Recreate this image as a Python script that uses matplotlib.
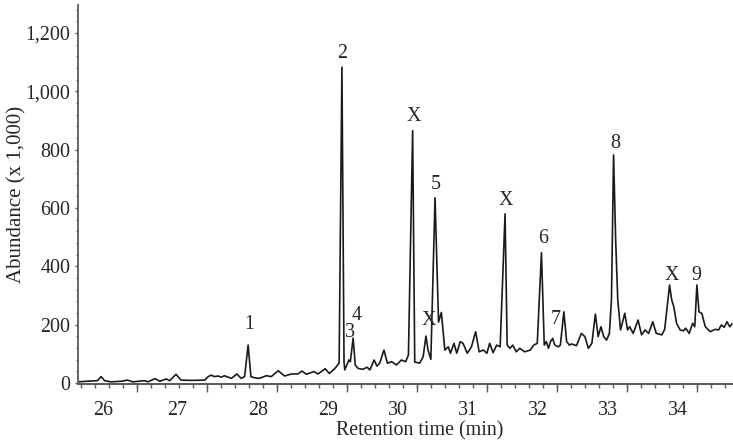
import matplotlib
matplotlib.use("Agg")
import matplotlib.pyplot as plt
from matplotlib.ticker import FixedLocator, NullFormatter, NullLocator, FuncFormatter
import numpy as np

# ---- data (retention time in min, abundance x 1,000) ----
time = [25.43, 25.62, 25.71, 25.76, 25.81, 25.90, 26.05, 26.14, 26.21, 26.38,
        26.43, 26.53, 26.60, 26.69, 26.74, 26.83, 26.90, 27.05, 27.24, 27.29,
        27.33, 27.38, 27.43, 27.48, 27.52, 27.62, 27.70, 27.76, 27.81, 27.86,
        27.90, 27.95, 28.02, 28.12, 28.19, 28.29, 28.38, 28.48, 28.57, 28.63,
        28.69, 28.80, 28.86, 28.96, 29.02, 29.10, 29.16, 29.20, 29.23, 29.24,
        29.27, 29.30, 29.32, 29.36, 29.39, 29.43, 29.50, 29.56, 29.60, 29.66,
        29.70, 29.74, 29.80, 29.85, 29.91, 29.98, 30.05, 30.11, 30.15, 30.21,
        30.24, 30.31, 30.36, 30.40, 30.43, 30.47, 30.53, 30.58, 30.62, 30.67,
        30.72, 30.75, 30.80, 30.84, 30.89, 30.93, 30.99, 31.05, 31.11, 31.16,
        31.22, 31.27, 31.31, 31.36, 31.41, 31.46, 31.53, 31.56, 31.60, 31.64,
        31.69, 31.74, 31.81, 31.89, 31.94, 31.99, 32.05, 32.09, 32.12, 32.15,
        32.18, 32.21, 32.24, 32.29, 32.32, 32.37, 32.41, 32.45, 32.48, 32.55,
        32.62, 32.67, 32.72, 32.77, 32.82, 32.86, 32.90, 32.94, 32.98, 33.02,
        33.05, 33.08, 33.11, 33.14, 33.18, 33.24, 33.28, 33.31, 33.36, 33.43,
        33.48, 33.53, 33.58, 33.64, 33.69, 33.77, 33.81, 33.88, 33.91, 33.94,
        33.98, 34.03, 34.08, 34.11, 34.16, 34.21, 34.24, 34.27, 34.30, 34.34,
        34.39, 34.46, 34.53, 34.58, 34.62, 34.66, 34.70, 34.74, 34.77]

abundance = [4, 7, 8, 22, 8, 4, 6, 10, 4, 8,
             4, 15, 6, 14, 8, 30, 10, 9, 10, 22,
             27, 22, 24, 20, 25, 16, 31, 16, 22, 130,
             22, 18, 16, 25, 22, 42, 24, 31, 31, 41,
             30, 39, 31, 49, 33, 50, 68, 1083, 72, 45,
             62, 79, 73, 154, 62, 50, 47, 54, 45, 79,
             58, 68, 113, 68, 73, 62, 79, 73, 96, 865,
             72, 68, 90, 161, 113, 81, 635, 209, 242, 113,
             124, 102, 136, 102, 142, 136, 102, 124, 176, 107,
             113, 102, 136, 104, 130, 124, 580, 130, 119, 130,
             107, 119, 107, 113, 130, 136, 447, 130, 142, 119,
             142, 153, 130, 124, 130, 244, 142, 130, 134, 128,
             170, 159, 119, 136, 236, 159, 193, 159, 147, 170,
             285, 782, 490, 285, 182, 239, 182, 193, 170, 216,
             165, 182, 170, 210, 170, 165, 184, 336, 285, 262,
             205, 182, 179, 188, 170, 205, 193, 336, 244, 239,
             193, 176, 184, 182, 199, 191, 210, 193, 202]

# peak annotations
peak_labels = ["1", "2", "3", "4", "X", "X", "5", "X", "6", "7", "8", "X", "9"]
peak_label_t = [27.88, 29.20, 29.31, 29.41, 30.23, 30.44, 30.54, 31.54, 32.07, 32.25, 33.11, 33.91, 34.26]
peak_label_a = [168, 1097, 142, 199, 881, 182, 648, 593, 462, 184, 787, 336, 336]

# x tick labels (as placed in the original figure)
xtick_labels = ["26", "27", "28", "29", "30", "31", "32", "33", "34"]
xtick_label_pos = [25.79, 26.84, 28.0, 29.0, 30.0, 31.0, 32.0, 33.0, 34.0]
xmajor_marks = [26.27, 27.27, 28.27, 29.27, 30.27, 31.27, 32.27, 33.27, 34.27]
yticks = [0, 200, 400, 600, 800, 1000, 1200]

# ---- style ----
plt.rcParams['font.family'] = ['Liberation Serif', 'DejaVu Serif']
plt.rcParams['font.size'] = 14.4
text_color = '#262626'
spine_color = '#5a5a5a'

fig = plt.figure(figsize=(7.33, 4.41), dpi=100)
ax = fig.add_axes([78 / 733, 57 / 441, 655 / 733, 379 / 441])

ax.plot(time, abundance, color='#1a1a1a', lw=1.2, solid_joinstyle='round')

ax.set_xlim(25.43, 34.786)
ax.set_ylim(-3.4, 1296)

for s in ['top', 'right']:
    ax.spines[s].set_visible(False)
for s in ['left', 'bottom']:
    ax.spines[s].set_color(spine_color)
    ax.spines[s].set_linewidth(1.3)

# y axis ticks
ax.yaxis.set_major_locator(FixedLocator(yticks))
ax.yaxis.set_major_formatter(FuncFormatter(lambda v, p: f"{int(v):,}"))
ax.yaxis.set_minor_locator(FixedLocator(list(np.arange(0, 1300, 40))))
ax.tick_params(axis='y', which='major', direction='out', length=2.5, width=1.0,
               color=spine_color, pad=3, labelcolor=text_color, labelsize=14.4)
ax.tick_params(axis='y', which='minor', direction='out', length=1.5, width=0.8,
               color=spine_color)

# x axis: labels (no marks) + minor marks
ax.xaxis.set_major_locator(FixedLocator(xtick_label_pos))
ax.set_xticklabels(xtick_labels)
ax.xaxis.set_minor_locator(FixedLocator(list(np.arange(25.47, 34.78, 0.2))))
ax.tick_params(axis='x', which='major', length=0, pad=12, labelcolor=text_color,
               labelsize=14.4)
ax.tick_params(axis='x', which='minor', direction='out', length=2.8, width=1.0,
               color=spine_color)

# long x tick marks each minute
sec = ax.secondary_xaxis('bottom')
sec.xaxis.set_major_locator(FixedLocator(xmajor_marks))
sec.xaxis.set_major_formatter(NullFormatter())
sec.xaxis.set_minor_locator(NullLocator())
sec.tick_params(axis='x', which='major', direction='out', length=5.5, width=1.0,
                color=spine_color)
sec.spines['bottom'].set_color(spine_color)
sec.spines['bottom'].set_linewidth(1.3)

# axis labels
ax.set_xlabel("Retention time (min)", color=text_color, fontsize=14.4, va='baseline')
ax.xaxis.set_label_coords(0.522, -0.1346)
ax.set_ylabel("Abundance (x 1,000)", color=text_color, fontsize=15, va='center')
ax.yaxis.set_label_coords(-0.094, 0.5)

# peak labels
for lab, t, a in zip(peak_labels, peak_label_t, peak_label_a):
    ax.text(t, a, lab, ha='center', va='bottom', color=text_color, fontsize=14.4)

fig.savefig("out.png", dpi=100)
